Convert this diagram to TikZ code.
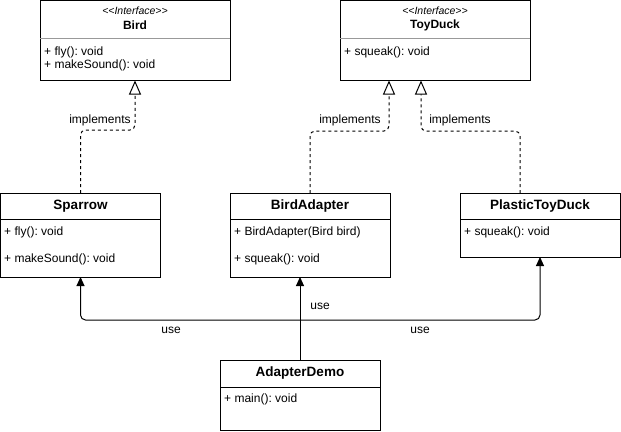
\documentclass[tikz,border=0pt]{standalone}
\usepackage{fontspec}
\setmainfont{Liberation Sans}
\usetikzlibrary{arrows.meta}
\frenchspacing
\begin{document}
\begin{tikzpicture}[x=1pt,y=-1pt,
  box/.style={draw=black,line width=1pt,fill=white,anchor=north west,inner sep=0pt,outer sep=0pt},
  sepline/.style={line width=1pt},
  isep/.style={draw=black!40,line width=1pt},
  stereo/.style={font=\fontsize{10.5}{12}\selectfont\itshape,inner sep=0pt},
  iname/.style={font=\fontsize{12}{14}\selectfont\bfseries,inner sep=0pt},
  cname/.style={font=\fontsize{13.5}{16}\selectfont\bfseries,inner sep=0pt},
  member/.style={font=\fontsize{12}{14}\selectfont,anchor=west,inner sep=0pt},
  lbl/.style={font=\fontsize{12}{14}\selectfont,inner sep=0pt},
  impl/.style={line width=1pt,dash pattern=on 3pt off 3pt,rounded corners=5pt,
    -{Triangle[open,length=14pt,width=12pt,line width=1pt]}},
  use/.style={line width=1pt,rounded corners=5pt,-{Triangle[length=9pt,width=8pt]}},
  plain/.style={line width=1pt}
]
\useasboundingbox (0,0) rectangle (621,431);
% boxes
\node[box,minimum width=190pt,minimum height=80pt] (bird) at (40,0.5) {};
\draw[isep] (40,38) -- (230,38);
\node[box,minimum width=190pt,minimum height=80pt] (toy) at (340,0.5) {};
\draw[isep] (340,38) -- (530,38);
\node[box,minimum width=160pt,minimum height=84pt] (sparrow) at (0.5,193) {};
\draw[sepline] (0.5,219) -- (160.5,219);
\node[box,minimum width=160pt,minimum height=84pt] (ba) at (230,193) {};
\draw[sepline] (230,219) -- (390,219);
\node[box,minimum width=160pt,minimum height=64pt] (pl) at (460,193) {};
\draw[sepline] (460,219) -- (620,219);
\node[box,minimum width=160pt,minimum height=70pt] (demo) at (220,360) {};
\draw[sepline] (220,387) -- (380,387);
% texts
\node[stereo] (birdst) at (135,11) {\symbol{60}\symbol{60}Interface\symbol{62}\symbol{62}};
\node[iname] (birdnm) at (135,25) {Bird};
\node[member] (birdm1) at (44,52) {+ fly(): void};
\node[member] (birdm2) at (44,65.5) {+ makeSound(): void};
\node[stereo] (toyst) at (435,11) {\symbol{60}\symbol{60}Interface\symbol{62}\symbol{62}};
\node[iname] (toynm) at (435,25) {ToyDuck};
\node[member] (toym1) at (344,52) {+ squeak(): void};
\node[cname] (spnm) at (80.5,206.5) {Sparrow};
\node[member] (spm1) at (4,232.5) {+ fly(): void};
\node[member] (spm2) at (4,259) {+ makeSound(): void};
\node[cname] (banm) at (310,206.5) {BirdAdapter};
\node[member] (bam1) at (234,232.5) {+ BirdAdapter(Bird bird)};
\node[member] (bam2) at (234,259) {+ squeak(): void};
\node[cname] (plnm) at (540,206.5) {PlasticToyDuck};
\node[member] (plm1) at (464,232.5) {+ squeak(): void};
\node[cname] (dmnm) at (300,373.5) {AdapterDemo};
\node[member] (dmm1) at (224,399) {+ main(): void};
% connector coordinates
\coordinate (bA) at (135,80.5);
\coordinate (tA) at (389,80.5);
\coordinate (tB) at (421,80.5);
\coordinate (pT) at (520,193);
\coordinate (j) at (300,320);
% implements
\draw[impl] (sparrow.north) -- ++(0,-63) -| (bA);
\draw[impl] (ba.north) -- ++(0,-62) -| (tA);
\draw[impl] (pT) -- ++(0,-62) -| (tB);
% use
\draw[use] (demo.north) -- (demo.north |- ba.south);
\draw[use] (j) -| (sparrow.south);
\draw[use] (j) -| (pl.south);
% labels
\node[lbl] (l1) at (100,120) {implements};
\node[lbl] (l2) at (350,120) {implements};
\node[lbl] (l3) at (460,120) {implements};
\node[lbl] (u1) at (171,330.5) {use};
\node[lbl] (u2) at (420,330.5) {use};
\node[lbl] (u3) at (320,306) {use};
\end{tikzpicture}
\end{document}
